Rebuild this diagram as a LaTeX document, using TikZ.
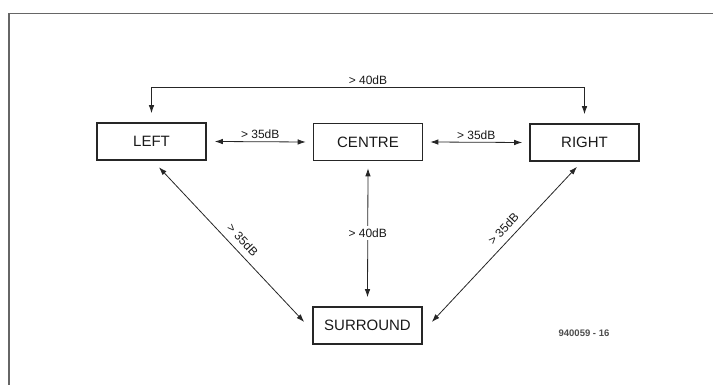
\documentclass[tikz,border=0pt]{standalone}
\usepackage{fontspec}
\setmainfont{Liberation Sans}
\usetikzlibrary{arrows.meta,calc}

\tikzset{
    chan/.style={draw=black!85, line width=1.6pt, minimum width=109pt, minimum height=37pt, inner sep=0pt, text=black!90, font=\fontsize{15}{18}\selectfont},
    link/.style={line width=0.8pt, draw=black!85, {Latex[length=8pt,width=5.5pt]}-{Latex[length=8pt,width=5.5pt]}},
    db/.style={font=\fontsize{12}{14}\selectfont, text=black!90, inner sep=2.5pt},
}

\begin{document}
\begin{tikzpicture}[x=1pt,y=1pt]
    \useasboundingbox (0,0) rectangle (713,385);
    % Frame
    \draw[black!60, line width=1.2pt] (713,371.5) -- (9,371.5) -- (9,0);

    % Channels
    \node[chan] (left) at (151.5,243.5) {LEFT};
    \node[chan] (centre) at (368,243) {CENTRE};
    \node[chan] (right) at (584.5,242.5) {RIGHT};
    \node[chan] (surround) at (367.5,59.5) {SURROUND};

    % Separation left / right (over the top)
    \draw[link] ($(left.north)+(0,9)$) -- ++(0,26) -| ($(right.north)+(0,9)$)
        node[db, pos=0.25, above] {> 40dB};

    % Separation along the front
    \draw[link] ($(left.east)+(8,0)$) -- ($(centre.west)+(-7,0)$)
        node[db, midway, above] {> 35dB};
    \draw[link] ($(centre.east)+(7,0)$) -- ($(right.west)+(-7,0)$)
        node[db, midway, above] {> 35dB};

    % Separation to surround
    \draw[link] ($(centre.south)+(0,-7)$) -- ($(surround.north)+(0,9)$)
        node[db, midway, fill=white] {> 40dB};
    \draw[link] ($(left.south)+(7.5,-6.5)$) -- ($(surround.west)+(-8,3.5)$)
        node[db, pos=0.52, sloped, above=4pt] {> 35dB};
    \draw[link] ($(surround.east)+(9,3.5)$) -- ($(right.south)+(-7.5,-5)$)
        node[db, pos=0.55, sloped, above=4pt] {> 35dB};

    % Figure number
    \node[font=\fontsize{9.5}{11}\selectfont\bfseries, text=black!70] (fig) at (584,52) {940059 - 16};
\end{tikzpicture}
\end{document}
